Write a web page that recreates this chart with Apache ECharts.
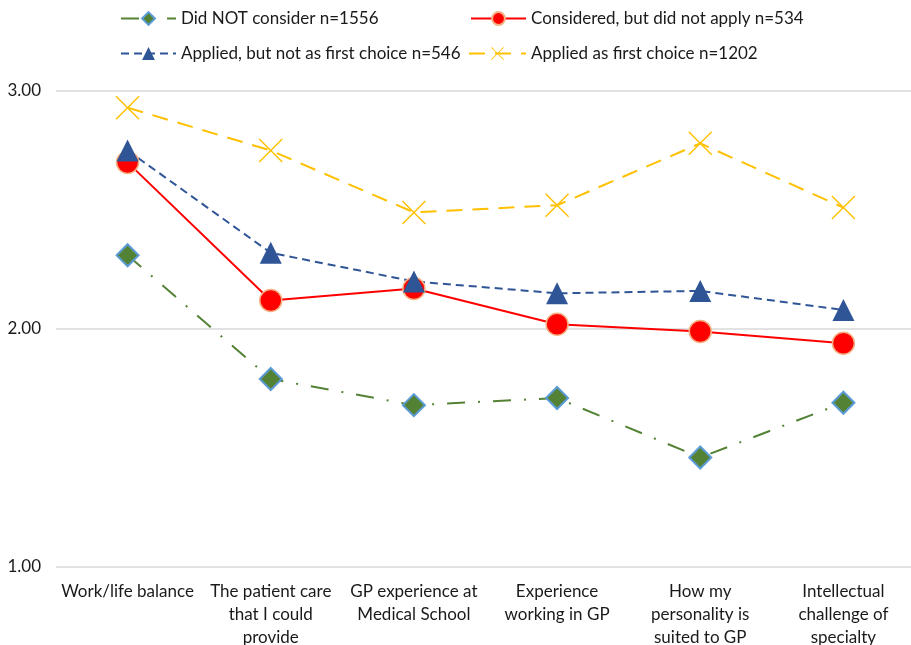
<!DOCTYPE html>
<html>
<head>
<meta charset="utf-8">
<script src="https://cdn.jsdelivr.net/npm/echarts@6/dist/echarts.min.js"></script>
<style>html,body{margin:0;padding:0;background:#fff}#main{width:911px;height:645px}</style>
</head>
<body>
<div id="main"></div>
<script>
// categories and values
var categories = ['Work/life balance', 'The patient care\nthat I could\nprovide', 'GP experience at\nMedical School',
  'Experience\nworking in GP', 'How my\npersonality is\nsuited to GP', 'Intellectual\nchallenge of\nspecialty'];
var didNotConsider = [2.31, 1.79, 1.68, 1.71, 1.46, 1.69];
var consideredNotApply = [2.70, 2.12, 2.17, 2.02, 1.99, 1.94];
var appliedNotFirst = [2.75, 2.32, 2.20, 2.15, 2.16, 2.08];
var appliedFirst = [2.93, 2.75, 2.49, 2.52, 2.78, 2.51];
var seriesNames = ['Did NOT consider n=1556', 'Considered, but did not apply n=534',
  'Applied, but not as first choice n=546', 'Applied as first choice n=1202'];

var font = 'Lato';
var crossPath = 'path://M0,1L1,0L12,11L23,0L24,1L13,12L24,23L23,24L12,13L1,24L0,23L11,12Z';

function legend(name, left, top, w) {
  return {
    data: [name], left: left, top: top, padding: 0, itemWidth: w, itemHeight: 16, itemGap: 0,
    textStyle: {fontFamily: font, fontSize: 17, color: '#1a1a1a'}
  };
}

var chart = echarts.init(document.getElementById('main'));
chart.setOption({
  animation: false,
  legend: [
    legend(seriesNames[0], 120, 10, 55),
    legend(seriesNames[1], 470, 10, 55),
    legend(seriesNames[2], 120, 45, 55),
    legend(seriesNames[3], 468, 45, 57)
  ],
  grid: {left: 56, right: -4, top: 91, bottom: 78, outerBoundsMode: 'none', containLabel: false},
  xAxis: {
    type: 'category', data: categories,
    axisLine: {show: false}, axisTick: {show: false},
    axisLabel: {interval: 0, margin: 13, fontFamily: font, fontSize: 17, color: '#1a1a1a', lineHeight: 23}
  },
  yAxis: {
    type: 'value', min: 1, max: 3, interval: 1,
    axisLabel: {formatter: function (v) { return v.toFixed(2); }, margin: 15,
      fontFamily: font, fontSize: 17, color: '#1a1a1a'},
    splitLine: {lineStyle: {color: '#d9d9d9', width: 1.5}}
  },
  series: [
    {name: seriesNames[0], type: 'line', data: didNotConsider, symbol: 'diamond', symbolSize: 22,
      itemStyle: {color: '#548235', borderColor: '#5b9bd5', borderWidth: 2},
      lineStyle: {color: '#548235', width: 2, type: [18, 13, 2, 13]}},
    {name: seriesNames[1], type: 'line', data: consideredNotApply, symbol: 'circle', symbolSize: 22,
      itemStyle: {color: '#ff0000', borderColor: '#f4b183', borderWidth: 1.5},
      lineStyle: {color: '#ff0000', width: 2}},
    {name: seriesNames[2], type: 'line', data: appliedNotFirst, symbol: 'triangle', symbolSize: 22,
      itemStyle: {color: '#2f5597'},
      lineStyle: {color: '#2f5597', width: 2, type: [8, 5]}},
    {name: seriesNames[3], type: 'line', data: appliedFirst, symbol: crossPath, symbolSize: 24,
      itemStyle: {color: '#ffc000'},
      lineStyle: {color: '#ffc000', width: 2, type: [16, 10]}}
  ]
});
</script>
</body>
</html>
